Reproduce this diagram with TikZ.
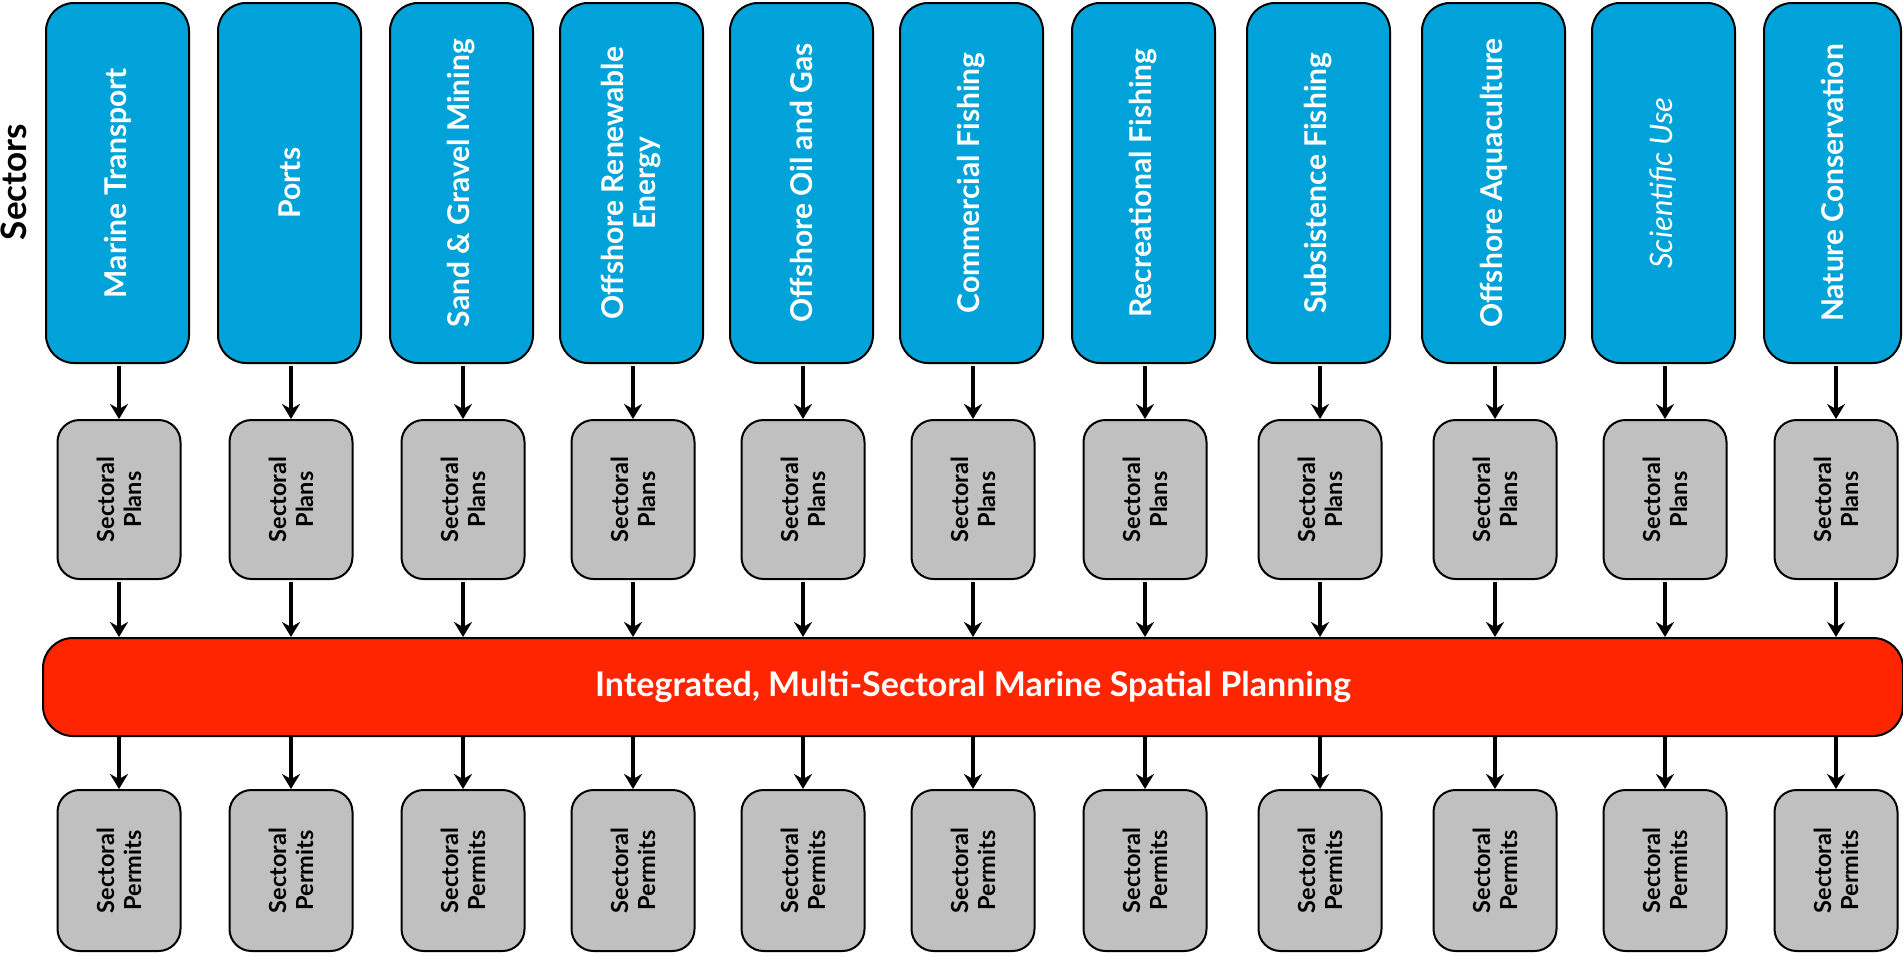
\documentclass[tikz,border=0pt]{standalone}
\usepackage{fontspec}
\setsansfont{Lato}
\usetikzlibrary{arrows.meta}

\definecolor{secblue}{RGB}{0,163,217}
\definecolor{mspred}{RGB}{255,37,0}
\definecolor{plangray}{RGB}{192,192,192}

% rotated boxes: east = top of page, west = bottom of page
\tikzset{
  sector/.style={draw, line width=2pt, rounded corners=28pt, fill=secblue, text=white,
    rotate=90, minimum width=360pt, minimum height=143pt, inner sep=0pt, align=center,
    font=\sffamily\bfseries\fontsize{30}{32}\selectfont},
  graybox/.style={draw, line width=2pt, rounded corners=22pt, fill=plangray,
    rotate=90, minimum height=123pt, inner sep=0pt, align=center,
    font=\sffamily\bfseries\fontsize{23.5}{27}\selectfont},
  flow/.style={line width=3.2pt, -{Stealth[length=15pt,width=18pt,inset=5pt]}}
}

\begin{document}
\begin{tikzpicture}[x=1pt,y=-1pt]
\useasboundingbox (0,0) rectangle (1903,956);
\node[rotate=90, font=\sffamily\bfseries\fontsize{35}{38}\selectfont] (sectors) at (14,182) {Sectors};
% sectors
\node[sector] (s1) at (117.5,183) {Marine Transport};
\node[sector] (s2) at (289.5,183) {Ports};
\node[sector] (s3) at (461.5,183) {Sand \& Gravel Mining};
\node[sector] (s4) at (631.5,183) {Offshore Renewable\\Energy};
\node[sector] (s5) at (801.5,183) {Offshore Oil and Gas};
\node[sector] (s6) at (971.5,183) {Commercial Fishing};
\node[sector] (s7) at (1143.5,183) {Recreational Fishing};
\node[sector] (s8) at (1318.5,183) {Subsistence Fishing};
\node[sector] (s9) at (1493.5,183) {Offshore Aquaculture};
\node[sector, font=\sffamily\itshape\fontsize{31}{34}\selectfont] (s10) at (1663.5,183) {Scientific Use};
\node[sector, minimum height=137pt] (s11) at (1832.5,183) {Nature Conservation};
% integrated planning
\node[draw, line width=2pt, rounded corners=30pt, fill=mspred, text=white,
  minimum width=1860pt, minimum height=98pt,
  font=\sffamily\bfseries\fontsize{34}{38}\selectfont] (msp) at (973,687)
  {Integrated, Multi-Sectoral Marine Spatial Planning};
% plans, permits and arrows
\foreach \i/\x in {1/119,2/291,3/463,4/633,5/803,6/973,7/1145,8/1320,9/1495,10/1665,11/1836} {
  \node[graybox, minimum width=159pt] (p\i) at (\x,499.5) {Sectoral\\Plans};
  \node[graybox, minimum width=161pt] (q\i) at (\x,870.5) {Sectoral\\Permits};
  \draw[flow, shorten <=2pt] (p\i.east |- s\i.west) -- (p\i.east);
  \draw[flow, shorten <=2pt] (p\i.west) -- (p\i.west |- msp.north);
  \draw[flow] (q\i.east |- msp.south) -- (q\i.east);
}
\end{tikzpicture}
\end{document}
